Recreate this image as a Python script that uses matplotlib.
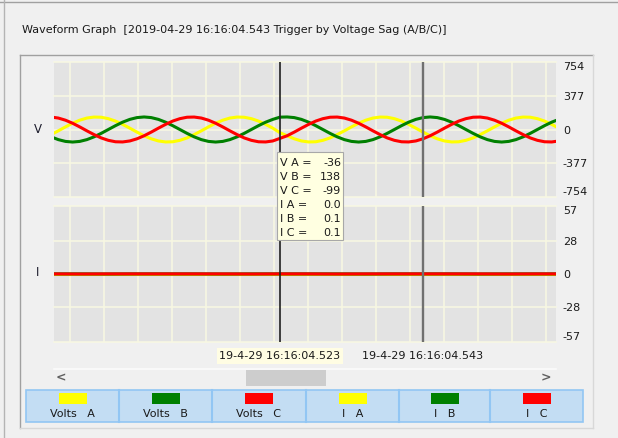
import matplotlib
matplotlib.use("Agg")
import matplotlib.pyplot as plt
from matplotlib.patches import Rectangle
from matplotlib.lines import Line2D
from matplotlib import transforms
import numpy as np

plt.rcParams["font.family"] = ["DejaVu Sans"]

# ---- data -------------------------------------------------------------
title = "Waveform Graph  [2019-04-29 16:16:04.543 Trigger by Voltage Sag (A/B/C)]"
date_prefix = "19-4-29 16:16:04."

# sample time in ms (of second 16:16:04)
time_ms = list(range(491, 563))

volts_a = [-57, -15, 29, 70, 104, 128, 139, 137, 121, 94, 57, 15, -29, -70, -104, -128,
           -139, -137, -121, -94, -57, -15, 29, 70, 104, 128, 139, 137, 121, 94, 57, 15,
           -36, -70, -104, -128, -139, -137, -121, -94, -57, -15, 29, 70, 104, 128, 139, 137,
           121, 94, 57, 15, -29, -70, -104, -128, -139, -137, -121, -94, -57, -15, 29, 70,
           104, 128, 139, 137, 121, 94, 57, 15]
volts_b = [-82, -113, -133, -140, -133, -113, -82, -43, 0, 43, 82, 113, 133, 140, 133, 113,
           82, 43, 0, -43, -82, -113, -133, -140, -133, -113, -82, -43, 0, 43, 82, 113,
           138, 140, 133, 113, 82, 43, 0, -43, -82, -113, -133, -140, -133, -113, -82, -43,
           0, 43, 82, 113, 133, 140, 133, 113, 82, 43, 0, -43, -82, -113, -133, -140,
           -133, -113, -82, -43, 0, 43, 82, 113]
volts_c = [139, 128, 104, 70, 29, -15, -57, -94, -121, -137, -139, -128, -104, -70, -29, 15,
           57, 94, 121, 137, 139, 128, 104, 70, 29, -15, -57, -94, -121, -137, -139, -128,
           -99, -70, -29, 15, 57, 94, 121, 137, 139, 128, 104, 70, 29, -15, -57, -94,
           -121, -137, -139, -128, -104, -70, -29, 15, 57, 94, 121, 137, 139, 128, 104, 70,
           29, -15, -57, -94, -121, -137, -139, -128]

current_time_ms = [491, 495, 499, 503, 507, 511, 515, 519, 523, 527, 531, 535, 539, 543,
                   547, 551, 555, 559, 563]
amps_a = [0.0, 0.0, 0.0, 0.0, 0.0, 0.0, 0.0, 0.0, 0.0, 0.0, 0.0, 0.0, 0.0, 0.0, 0.0, 0.0, 0.0, 0.0, 0.0]
amps_b = [0.1, 0.1, 0.0, 0.1, 0.1, 0.1, 0.0, 0.1, 0.1, 0.1, 0.1, 0.0, 0.1, 0.1, 0.1, 0.0, 0.1, 0.1, 0.1]
amps_c = [0.1, 0.0, 0.1, 0.1, 0.1, 0.1, 0.1, 0.0, 0.1, 0.1, 0.0, 0.1, 0.1, 0.1, 0.1, 0.1, 0.0, 0.1, 0.1]

volt_ticks = [-754, -377, 0, 377, 754]
amp_ticks = [-57, -28, 0, 28, 57]
cursor_ms = [523, 543]

series_names = ["Volts   A", "Volts   B", "Volts   C", "I   A", "I   B", "I   C"]
series_colors = ["#ffff00", "#008000", "#ff0000", "#ffff00", "#008000", "#ff0000"]

# ---- figure helpers (pixel coordinates, origin top-left) --------------
W, H = 618, 438
fig = plt.figure(figsize=(W / 100, H / 100), dpi=100, facecolor="#f0f0f0")


def fx(x):
    return x / W


def fy(y):
    return 1 - y / H


def box(x0, y0, x1, y1, **kw):
    r = Rectangle((fx(x0), fy(y1)), (x1 - x0) / W, (y1 - y0) / H,
                  transform=fig.transFigure, **kw)
    fig.add_artist(r)
    return r


def hline(y, x0, x1, **kw):
    fig.add_artist(Line2D([fx(x0), fx(x1)], [fy(y), fy(y)], transform=fig.transFigure, **kw))


def vline(x, y0, y1, **kw):
    fig.add_artist(Line2D([fx(x), fx(x)], [fy(y0), fy(y1)], transform=fig.transFigure, **kw))


# window and group frame
hline(1.5, 0, W, color="#a0a0a0", lw=1.0)
vline(3.5, 0, H, color="#b4b4b4", lw=1.0)
hline(55, 20, 593, color="#a0a0a0", lw=1.0)
vline(20, 55, 428, color="#a0a0a0", lw=1.0)
hline(428, 20, 593, color="#d8d8d8", lw=1.0)
vline(593, 55, 428, color="#d8d8d8", lw=1.0)

fig.text(fx(22), fy(30), title, fontsize=8, va="center", ha="left", color="#1a1a1a")

# ---- plot panels ------------------------------------------------------
x_lo, x_hi = 491.4, 561.6
grid_x = np.arange(493.63, x_hi, 4.755)
grid_color = "#f8f8e2"

ax_v = fig.add_axes([fx(54), fy(197), 502 / W, 135 / H])
ax_i = fig.add_axes([fx(54), fy(342), 502 / W, 136 / H])

for ax, ticks in ((ax_v, volt_ticks), (ax_i, amp_ticks)):
    ax.set_facecolor("#e3e3e3")
    for s in ax.spines.values():
        s.set_visible(False)
    ax.set_xlim(x_lo, x_hi)
    ax.set_ylim(ticks[0], ticks[-1])
    ax.set_xticks([])
    for gx in grid_x:
        ax.axvline(gx, color=grid_color, lw=1.1, zorder=1)
    for gy in ticks:
        ax.axhline(gy, color=grid_color, lw=1.1, zorder=1, clip_on=False)
    ax.yaxis.tick_right()
    ax.set_yticks(ticks)
    ax.set_yticklabels([str(t) for t in ticks])
    ax.tick_params(axis="y", length=0, pad=5, labelsize=8, labelcolor="#1a1a1a")
    labels = ax.get_yticklabels()
    labels[0].set_verticalalignment("bottom")
    labels[-1].set_verticalalignment("top")

lw_wave = 2.2
ax_v.plot(time_ms, volts_a, color=series_colors[0], lw=lw_wave, zorder=3)
ax_v.plot(time_ms, volts_b, color=series_colors[1], lw=lw_wave, zorder=3)
ax_v.plot(time_ms, volts_c, color=series_colors[2], lw=lw_wave, zorder=3)

ax_i.plot(current_time_ms, amps_a, color=series_colors[3], lw=lw_wave, zorder=3)
ax_i.plot(current_time_ms, amps_b, color=series_colors[4], lw=lw_wave, zorder=3)
ax_i.plot(current_time_ms, amps_c, color=series_colors[5], lw=lw_wave, zorder=3)

for ax in (ax_v, ax_i):
    ax.axvline(cursor_ms[0], color="#202020", lw=1.2, zorder=4)
    ax.axvline(cursor_ms[1], color="#707070", lw=1.7, zorder=4)

fig.text(fx(38), fy(130), "V", fontsize=8.5, ha="center", va="center", color="#1a1a2a")
fig.text(fx(38), fy(273), "I", fontsize=8.5, ha="center", va="center", color="#1a1a2a")

# ---- cursor read-out ---------------------------------------------------
k = time_ms.index(cursor_ms[0])
j = current_time_ms.index(cursor_ms[0])
readout = [
    ("V A =", f"{volts_a[k]}"),
    ("V B =", f"{volts_b[k]}"),
    ("V C =", f"{volts_c[k]}"),
    ("I A =", f"{amps_a[j]:.1f}"),
    ("I B =", f"{amps_b[j]:.1f}"),
    ("I C =", f"{amps_c[j]:.1f}"),
]
box(277, 152, 343, 240, facecolor="#ffffe1", edgecolor="#a8a8a8", lw=0.8, zorder=10)
for r, (name, val) in enumerate(readout):
    yy = 163 + 14 * r
    fig.text(fx(280), fy(yy), name, fontsize=8, ha="left", va="center", color="#1a1a1a", zorder=11)
    fig.text(fx(341), fy(yy), val, fontsize=8, ha="right", va="center", color="#1a1a1a", zorder=11)

# ---- time labels under cursors ----------------------------------------
blend = transforms.blended_transform_factory(ax_v.transData, fig.transFigure)
for n, cm in enumerate(cursor_ms):
    kw = {}
    if n == 0:
        kw["bbox"] = dict(boxstyle="square,pad=0.25", fc="#fffde3", ec="none")
    fig.text(cm, fy(356), f"{date_prefix}{cm % 1000:03d}", transform=blend,
             fontsize=8, ha="center", va="center", color="#1a1a1a", **kw)

# ---- scroll bar -------------------------------------------------------
hline(369, 54, 556, color="#fbfbfb", lw=1.2)
box(246, 370, 326, 386, facecolor="#cdcdcd", edgecolor="none")
fig.text(fx(61), fy(378), "<", fontsize=9, fontweight="bold", ha="center", va="center", color="#606060")
fig.text(fx(546), fy(378), ">", fontsize=9, fontweight="bold", ha="center", va="center", color="#606060")

# ---- series key -------------------------------------------------------
cells = [26, 119, 212, 306, 399, 490, 583]
box(cells[0], 390, cells[-1], 422, facecolor="#c3ddf3", edgecolor="#92c6f3", lw=1.2)
for c in cells[1:-1]:
    vline(c, 390, 422, color="#92c6f3", lw=1.5)
for n, (name, col) in enumerate(zip(series_names, series_colors)):
    cx = (cells[n] + cells[n + 1]) / 2
    box(cx - 14, 393, cx + 14, 404, facecolor=col, edgecolor="none")
    fig.text(fx(cx), fy(414), name, fontsize=8, ha="center", va="center", color="#1a1a1a")

fig.savefig("out.png", dpi=100, facecolor=fig.get_facecolor())
